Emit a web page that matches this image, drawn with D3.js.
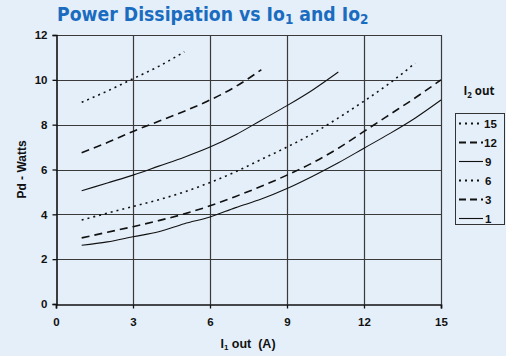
<!DOCTYPE html>
<html><head><meta charset="utf-8">
<script src="https://cdn.jsdelivr.net/npm/d3@7"></script>
<style>
html,body{margin:0;padding:0;background:#e5eff9;}
svg{display:block;}
</style></head>
<body>
<svg id="chart" width="506" height="356"></svg>
<script>
const xTicks = [0, 3, 6, 9, 12, 15];
const yTicks = [0, 2, 4, 6, 8, 10, 12];
const legendLabels = ["15", "12", "9", "6", "3", "1"];
const styles = ["dot", "dash", "solid", "dot", "dash", "solid"];
const x15 = [1, 2, 3, 4, 5];
const y15 = [9.0, 9.5, 10.05, 10.6, 11.25];
const x12 = [1, 2, 3, 4, 5, 6, 7, 8];
const y12 = [6.75, 7.2, 7.7, 8.15, 8.6, 9.1, 9.7, 10.45];
const x9 = [1, 2, 3, 4, 5, 6, 7, 8, 9, 10, 11];
const y9 = [5.05, 5.4, 5.75, 6.15, 6.55, 7.0, 7.55, 8.2, 8.85, 9.55, 10.35];
const x6 = [1, 2, 3, 4, 5, 6, 7, 8, 9, 10, 11, 12, 13, 14];
const y6 = [3.75, 4.05, 4.35, 4.65, 5.0, 5.42, 5.9, 6.45, 7.0, 7.6, 8.3, 9.05, 9.85, 10.75];
const x3 = [1, 2, 3, 4, 5, 6, 7, 8, 9, 10, 11, 12, 13, 14, 15];
const y3 = [2.95, 3.2, 3.45, 3.72, 4.02, 4.38, 4.8, 5.25, 5.75, 6.3, 6.95, 7.7, 8.45, 9.2, 10.0];
const x1 = [1, 2, 3, 4, 5, 6, 7, 8, 9, 10, 11, 12, 13, 14, 15];
const y1 = [2.62, 2.77, 3.0, 3.22, 3.58, 3.88, 4.3, 4.68, 5.15, 5.7, 6.3, 6.95, 7.6, 8.3, 9.1];

const seriesX = [x15, x12, x9, x6, x3, x1];
const seriesY = [y15, y12, y9, y6, y3, y1];

const svg = d3.select("#chart");
const W = 506, H = 356;
const m = {left: 56, top: 35, right: 65, bottom: 52};
const x = d3.scaleLinear().domain([0, 15]).range([m.left, W - m.right]);
const y = d3.scaleLinear().domain([0, 12]).range([H - m.bottom, m.top]);

const dashFor = s => s === "dot" ? "2,4" : s === "dash" ? "8,5" : null;
const widthFor = s => s === "solid" ? 1.1 : 1.6;
const FONT = "'Liberation Sans', Arial, sans-serif";

// gridlines
const g = svg.append("g");
g.selectAll("line.hg").data(yTicks.slice(1)).join("line")
  .attr("x1", x(0)).attr("x2", x(15))
  .attr("y1", d => Math.round(y(d)) + 0.5).attr("y2", d => Math.round(y(d)) + 0.5)
  .attr("stroke", "#3a3a3a").attr("stroke-width", 1.2);
g.selectAll("line.vg").data(xTicks.slice(1)).join("line")
  .attr("y1", y(0)).attr("y2", y(12))
  .attr("x1", d => Math.round(x(d)) + 0.5).attr("x2", d => Math.round(x(d)) + 0.5)
  .attr("stroke", "#3a3a3a").attr("stroke-width", 1.2);

// axes
const xAxis = svg.append("g").attr("transform", `translate(0,${Math.round(y(0)) + 0.5})`)
  .call(d3.axisBottom(x).tickValues(xTicks).tickSize(4).tickPadding(9));
const yAxis = svg.append("g").attr("transform", `translate(${Math.round(x(0)) + 0.5},0)`)
  .call(d3.axisLeft(y).tickValues(yTicks).tickSize(4).tickPadding(5));
[xAxis, yAxis].forEach(a => {
  a.select(".domain").attr("stroke", "#111").attr("stroke-width", 1.6);
  a.selectAll(".tick line").attr("stroke", "#111").attr("stroke-width", 1.3);
  a.selectAll("text").attr("font-family", FONT)
    .attr("font-weight", "bold").attr("font-size", 11.5).attr("fill", "#111");
});

// series
const line = d3.line().x(d => x(d[0])).y(d => y(d[1])).curve(d3.curveMonotoneX);
seriesX.forEach((xs, i) => {
  const pts = xs.map((v, j) => [v, seriesY[i][j]]);
  svg.append("path").attr("d", line(pts)).attr("fill", "none")
    .attr("stroke", "#111").attr("stroke-width", widthFor(styles[i]))
    .attr("stroke-dasharray", dashFor(styles[i]));
});

// title
const title = svg.append("text")
  .attr("transform", "translate(57,21) scale(0.865,1)")
  .attr("font-family", "'DejaVu Sans', sans-serif")
  .attr("font-weight", "bold").attr("font-size", 20).attr("fill", "#1a6cc0");
title.append("tspan").text("Power Dissipation vs Io");
title.append("tspan").attr("font-size", 14).attr("dy", 3).text("1");
title.append("tspan").attr("dy", -3).text(" and Io");
title.append("tspan").attr("font-size", 14).attr("dy", 3).text("2");

// axis labels
const xl = svg.append("text").attr("x", 248).attr("y", 348).attr("text-anchor", "middle")
  .attr("font-family", FONT).attr("font-weight", "bold")
  .attr("font-size", 12.5).attr("fill", "#111");
xl.append("tspan").text("I");
xl.append("tspan").attr("font-size", 8).attr("dy", 2).text("1");
xl.append("tspan").attr("dy", -2).text(" out\u00a0\u00a0(A)");

svg.append("text").attr("transform", `translate(26,${y(6)}) rotate(-90)`)
  .attr("text-anchor", "middle")
  .attr("font-family", FONT).attr("font-weight", "bold")
  .attr("font-size", 12).attr("fill", "#111").text("Pd - Watts");

// legend
const lt = svg.append("text").attr("x", 479).attr("y", 95).attr("text-anchor", "middle")
  .attr("font-family", "'Open Sans', 'Liberation Sans', sans-serif").attr("font-weight", "bold")
  .attr("font-size", 11.5).attr("fill", "#111");
lt.append("tspan").text("I");
lt.append("tspan").attr("font-size", 8).attr("dy", 3).text("2");
lt.append("tspan").attr("dy", -3).text(" out");

svg.append("rect").attr("x", 455.5).attr("y", 113.5).attr("width", 49).attr("height", 111)
  .attr("fill", "none").attr("stroke", "#333").attr("stroke-width", 1);
const lg = svg.append("g");
legendLabels.forEach((lab, i) => {
  const cy = 123.5 + i * 19;
  lg.append("line").attr("x1", 459).attr("x2", 483).attr("y1", cy).attr("y2", cy)
    .attr("stroke", "#111").attr("stroke-width", styles[i] === "solid" ? 1.1 : 2)
    .attr("stroke-dasharray", styles[i] === "dot" ? "2,4" : styles[i] === "dash" ? "7,4" : null);
  lg.append("text").attr("x", lab.length > 1 ? 484 : 485).attr("y", cy + 4)
    .attr("font-family", FONT).attr("font-weight", "bold")
    .attr("font-size", 11.5).attr("fill", "#111").text(lab);
});
</script>
</body></html>
